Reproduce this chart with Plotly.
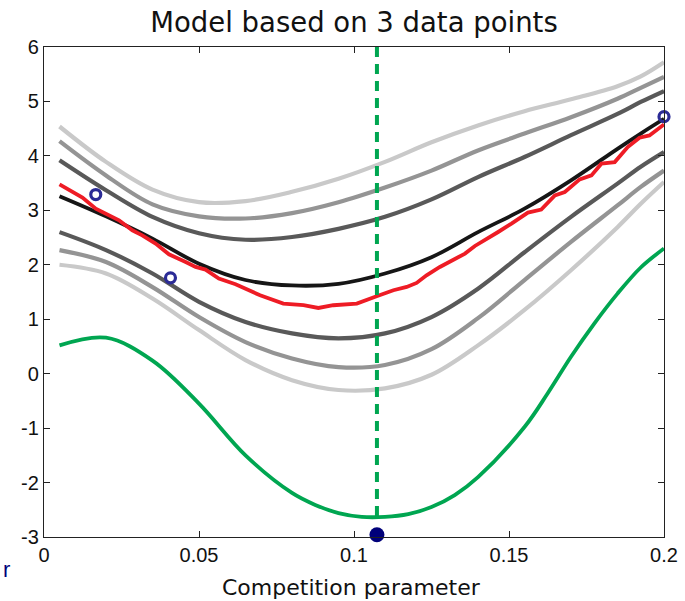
import plotly.graph_objects as go

# ---- data ----
x_grid = [0.005, 0.02, 0.035, 0.05, 0.065, 0.08, 0.095, 0.11, 0.125, 0.14, 0.155, 0.17, 0.185, 0.1925, 0.2]

upper3 = [4.54, 3.89, 3.38, 3.15, 3.17, 3.34, 3.58, 3.89, 4.25, 4.56, 4.82, 5.04, 5.28, 5.46, 5.72]
upper2 = [4.27, 3.64, 3.11, 2.89, 2.85, 2.95, 3.15, 3.42, 3.73, 4.10, 4.41, 4.71, 5.05, 5.25, 5.45]
upper1 = [3.92, 3.37, 2.88, 2.58, 2.46, 2.51, 2.66, 2.88, 3.20, 3.61, 3.98, 4.38, 4.77, 4.99, 5.19]
mean_curve = [3.26, 2.89, 2.48, 2.02, 1.72, 1.62, 1.65, 1.84, 2.14, 2.60, 3.03, 3.55, 4.13, 4.41, 4.68]
lower1 = [2.60, 2.27, 1.84, 1.32, 0.95, 0.74, 0.65, 0.74, 1.04, 1.56, 2.23, 2.88, 3.49, 3.80, 4.07]
lower2 = [2.27, 2.05, 1.59, 1.04, 0.58, 0.28, 0.12, 0.16, 0.45, 1.02, 1.72, 2.42, 3.09, 3.43, 3.73]
lower3 = [2.00, 1.84, 1.38, 0.80, 0.25, -0.12, -0.30, -0.27, -0.02, 0.52, 1.17, 1.90, 2.69, 3.12, 3.52]

acq_x = [0.005, 0.02, 0.035, 0.05, 0.065, 0.08, 0.0875, 0.095, 0.1025, 0.11, 0.1175, 0.125,
         0.1325, 0.14, 0.155, 0.1625, 0.17, 0.1775, 0.185, 0.1925, 0.2]
acquisition = [0.52, 0.66, 0.24, -0.55, -1.50, -2.19, -2.41, -2.56, -2.63, -2.63, -2.58, -2.45,
               -2.23, -1.90, -0.98, -0.36, 0.31, 0.92, 1.47, 1.95, 2.30]

red_x = [0.0050, 0.0124, 0.0167, 0.0242, 0.0285, 0.0317, 0.0360, 0.0403, 0.0457, 0.0489,
         0.0521, 0.0564, 0.0618, 0.0672, 0.0697, 0.0772, 0.0837, 0.0885, 0.0933, 0.1009,
         0.1041, 0.1073, 0.1127, 0.1170, 0.1202, 0.1234, 0.1277, 0.1309, 0.1342, 0.1358,
         0.1390, 0.1433, 0.1465, 0.1508, 0.1561, 0.1604, 0.1648, 0.1680, 0.1728, 0.1766,
         0.1798, 0.1841, 0.1883, 0.1921, 0.1953, 0.2000]
red_y = [3.477, 3.233, 3.031, 2.817, 2.633, 2.541, 2.389, 2.193, 2.051, 1.960,
         1.912, 1.747, 1.642, 1.514, 1.440, 1.288, 1.257, 1.207, 1.257, 1.288,
         1.349, 1.422, 1.532, 1.593, 1.666, 1.807, 1.960, 2.051, 2.143, 2.206,
         2.345, 2.481, 2.602, 2.756, 2.958, 3.013, 3.275, 3.336, 3.569, 3.642,
         3.857, 3.886, 4.161, 4.334, 4.376, 4.578]

data_x = [0.0167, 0.0408, 0.2]
data_y = [3.29, 1.76, 4.72]

best_x = 0.1074
best_acq = -2.63
best_marker_y = -2.96

x_ticks = [0, 0.05, 0.1, 0.15, 0.2]
x_ticktext = ["0", "0.05", "0.1", "0.15", "0.2"]
y_ticks = [-3, -2, -1, 0, 1, 2, 3, 4, 5, 6]
y_ticktext = ["-3", "-2", "-1", "0", "1", "2", "3", "4", "5", "6"]

LIGHT = "#c9c9c9"
MID = "#949494"
DARK = "#595959"

fig = go.Figure()

def curve(xs, y, color, width=4.2):
    fig.add_trace(go.Scatter(x=xs, y=y, mode="lines",
                             line=dict(color=color, width=width, shape="spline", smoothing=1.0),
                             hoverinfo="skip", showlegend=False))

curve(x_grid, upper3, LIGHT)
curve(x_grid, lower3, LIGHT)
curve(x_grid, upper2, MID)
curve(x_grid, lower2, MID)
curve(x_grid, upper1, DARK)
curve(x_grid, lower1, DARK)
curve(x_grid, mean_curve, "#161616", 3.8)

fig.add_trace(go.Scatter(x=red_x, y=red_y, mode="lines",
                         line=dict(color="#ee1c25", width=3.8),
                         hoverinfo="skip", showlegend=False))

curve(acq_x, acquisition, "#00a651", 3.8)

fig.add_trace(go.Scatter(x=[best_x, best_x], y=[6, best_acq], mode="lines",
                         line=dict(color="#00a651", width=4, dash="10px,7px"),
                         hoverinfo="skip", showlegend=False))

fig.add_trace(go.Scatter(x=data_x, y=data_y, mode="markers",
                         marker=dict(symbol="circle-open", size=10, color="#2b2b96",
                                     line=dict(width=3.2, color="#2b2b96")),
                         cliponaxis=False, hoverinfo="skip", showlegend=False))

fig.add_trace(go.Scatter(x=[best_x], y=[best_marker_y], mode="markers",
                         marker=dict(symbol="circle", size=15, color="#00007a"),
                         cliponaxis=False, hoverinfo="skip", showlegend=False))

tick_font = "Liberation Sans, Arial, sans-serif"
label_font = "DejaVu Sans, sans-serif"

plot_w = 685 - 43.5 - 20.5
plot_h = 601 - 47 - 63.5

fig.update_layout(
    width=685, height=601,
    margin=dict(l=43.5, r=20.5, t=47, b=63.5),
    paper_bgcolor="white", plot_bgcolor="white",
    title=dict(text="Model based on 3 data points", x=0.5, xref="paper", xanchor="center",
               y=1 - 22 / 601, yanchor="middle",
               font=dict(family=label_font, size=27.5, color="#111111")),
    xaxis=dict(range=[0, 0.2], tickvals=x_ticks, ticktext=x_ticktext,
               showgrid=False, zeroline=False, showline=True, linecolor="#222222", linewidth=1.3,
               mirror="ticks", ticks="inside", ticklen=6, tickcolor="#222222", automargin=False,
               tickfont=dict(family=tick_font, size=20, color="#111111")),
    yaxis=dict(range=[-3, 6], tickvals=y_ticks, ticktext=y_ticktext,
               showgrid=False, zeroline=False, showline=True, linecolor="#222222", linewidth=1.3,
               mirror="ticks", ticks="inside", ticklen=6, tickcolor="#222222", automargin=False,
               tickfont=dict(family=tick_font, size=20, color="#111111")),
    annotations=[
        dict(text="Competition parameter", xref="paper", yref="paper",
             x=(351.5 - 43.5) / plot_w, y=-(588 - 537.5) / plot_h,
             xanchor="center", yanchor="middle", showarrow=False,
             font=dict(family=label_font, size=22, color="#111111")),
        dict(text="r", xref="paper", yref="paper", x=-43.5 / plot_w, y=-(570 - 537.5) / plot_h,
             xanchor="left", yanchor="middle", showarrow=False,
             font=dict(family=tick_font, size=22, color="#00007a")),
    ],
)

fig.write_html("out.html")
